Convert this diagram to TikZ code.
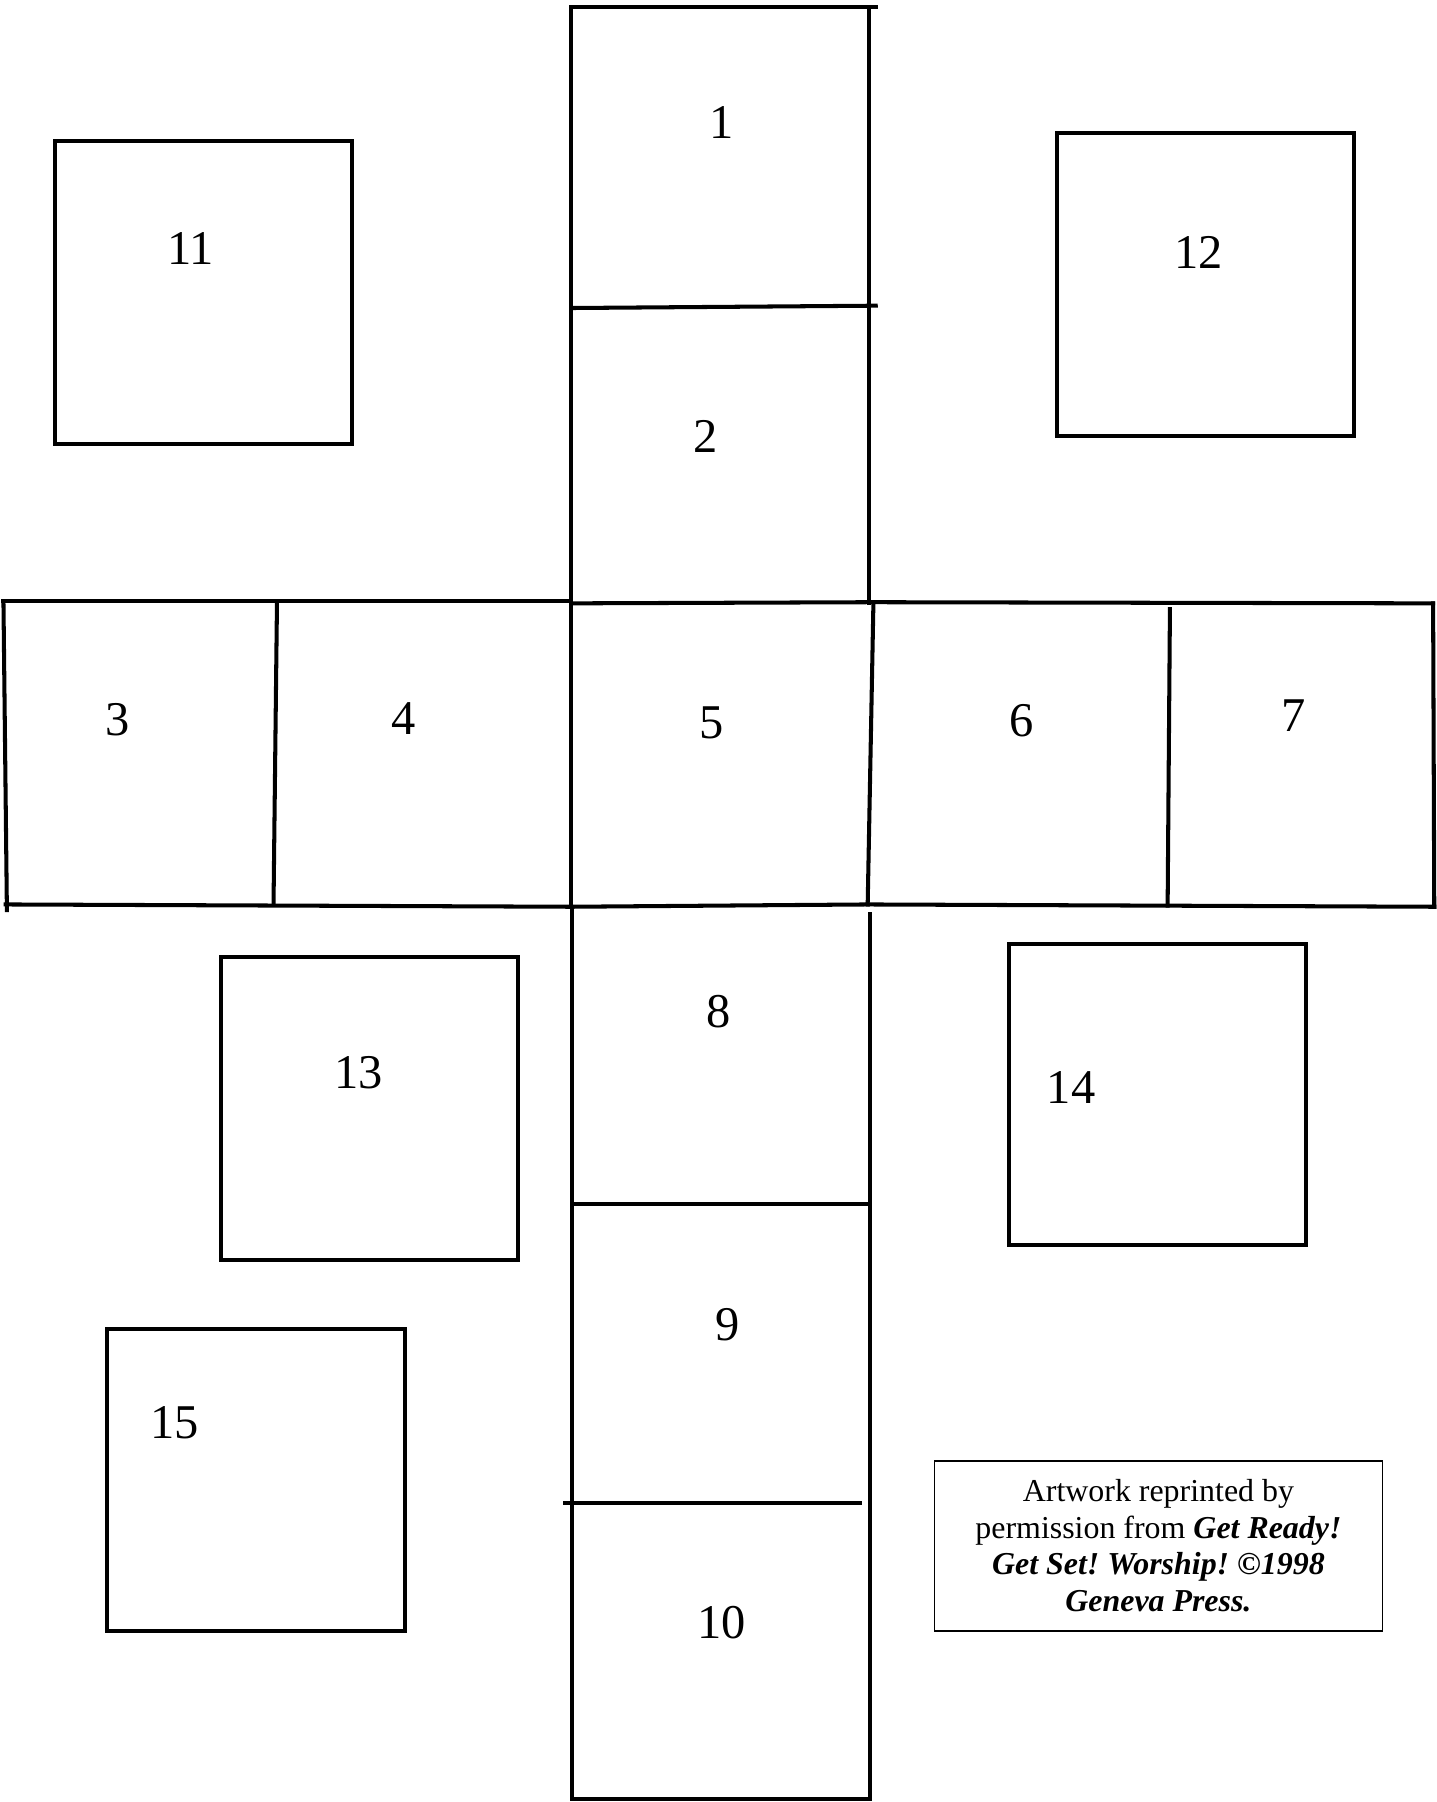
\documentclass[tikz,border=0pt]{standalone}
\usepackage{fontspec}
\setmainfont{Liberation Serif}
\tikzset{
  cut/.style={line width=1pt, line cap=rect},
  num/.style={font=\fontsize{12}{14}\selectfont, inner sep=0pt},
}
\begin{document}
\frenchspacing
\begin{tikzpicture}
		\useasboundingbox (0,0) rectangle (12.5,-15.68);
		% center column
		\coordinate (TL) at (4.97,-0.06);
		\coordinate (TR) at (7.62,-0.06);
		\coordinate (CL1) at (4.97,-0.10);
		\coordinate (CL2) at (4.97,-5.25);
		\coordinate (CR1) at (7.56,-0.06);
		\coordinate (CR2) at (7.56,-5.25);
		\coordinate (D1a) at (5.00,-2.68);
		\coordinate (D1b) at (7.62,-2.66);
		% middle row
		\coordinate (RTa) at (0.03,-5.23);
		\coordinate (RTb) at (4.94,-5.23);
		\coordinate (RTc) at (7.60,-5.24);
		\coordinate (RTd) at (12.47,-5.25);
		\coordinate (RBa) at (0.05,-7.87);
		\coordinate (RBb) at (4.97,-7.89);
		\coordinate (RBc) at (7.55,-7.87);
		\coordinate (RBd) at (12.48,-7.89);
		\coordinate (LE) at (0.06,-7.92);
		\coordinate (D3a) at (2.41,-5.25);
		\coordinate (D3b) at (2.38,-7.87);
		\coordinate (D6a) at (10.18,-5.30);
		\coordinate (D6b) at (10.16,-7.88);
		% lower column
		\coordinate (BL1) at (4.98,-7.90);
		\coordinate (BL2) at (4.98,-15.65);
		\coordinate (BR1) at (7.57,-7.95);
		\coordinate (BR2) at (7.57,-15.65);
		\coordinate (D8a) at (4.98,-10.48);
		\coordinate (D8b) at (7.57,-10.48);
		\coordinate (D9a) at (4.92,-13.08);
		\coordinate (D9b) at (7.48,-13.08);
		\draw[cut] (TL)--(TR);
		\draw[cut] (CL1)--(CL2);
		\draw[cut] (CR1)--(CR2);
		\draw[cut] (D1a)--(D1b);
		\draw[cut] (RTa)--(RTb);
		\draw[cut] (CL2)--(RTc);
		\draw[cut] (RTc)--(RTd);
		\draw[cut] (RBa)--(RBb);
		\draw[cut] (RBb)--(RBc);
		\draw[cut] (RBc)--(RBd);
		\draw[cut] (RTa)--(LE);
		\draw[cut] (D3a)--(D3b);
		\draw[cut] (CL2)--(RBb);
		\draw[cut] (RTc)--(RBc);
		\draw[cut] (D6a)--(D6b);
		\draw[cut] (RTd)--(RBd);
		\draw[cut] (BL1)--(BL2);
		\draw[cut] (BR1)--(BR2);
		\draw[cut] (D8a)--(D8b);
		\draw[cut] (D9a)--(D9b);
		\draw[cut] (BL2)--(BR2);
		% loose squares
		\draw[cut] (0.48,-1.23) rectangle (3.06,-3.86);
		\draw[cut] (9.20,-1.16) rectangle (11.78,-3.79);
		\draw[cut] (1.92,-8.33) rectangle (4.51,-10.96);
		\draw[cut] (8.78,-8.21) rectangle (11.36,-10.83);
		\draw[cut] (0.93,-11.56) rectangle (3.52,-14.19);
		% numbers
		\node[num] (N1) at (6.28,-1.07) {1};
		\node[num] (N2) at (6.14,-3.80) {2};
		\node[num] (N3) at (1.02,-6.26) {3};
		\node[num] (N4) at (3.51,-6.25) {4};
		\node[num] (N5) at (6.19,-6.29) {5};
		\node[num] (N6) at (8.89,-6.27) {6};
		\node[num] (N7) at (11.26,-6.23) {7};
		\node[num] (N8) at (6.25,-8.80) {8};
		\node[num] (N9) at (6.33,-11.53) {9};
		\node[num] (N10) at (6.28,-14.12) {10};
		\node[num] (N11) at (1.66,-2.16) {11};
		\node[num] (N12) at (10.43,-2.20) {12};
		\node[num] (N13) at (3.12,-9.33) {13};
		\node[num] (N14) at (9.32,-9.46) {14};
		\node[num] (N15) at (1.52,-12.38) {15};
		% credit
		\node[draw, line width=0.4pt, minimum width=3.90cm, minimum height=1.48cm, align=center,
		      inner sep=0pt, font=\fontsize{7.9}{9.1}\selectfont] (credit) at (10.08,-13.45)
		  {Artwork reprinted by\\ permission from \textbf{\textit{Get Ready!}}\\
		   \textbf{\textit{Get Set! Worship! ©1998}}\\ \textbf{\textit{Geneva Press.}}};
	\end{tikzpicture}
\end{document}
